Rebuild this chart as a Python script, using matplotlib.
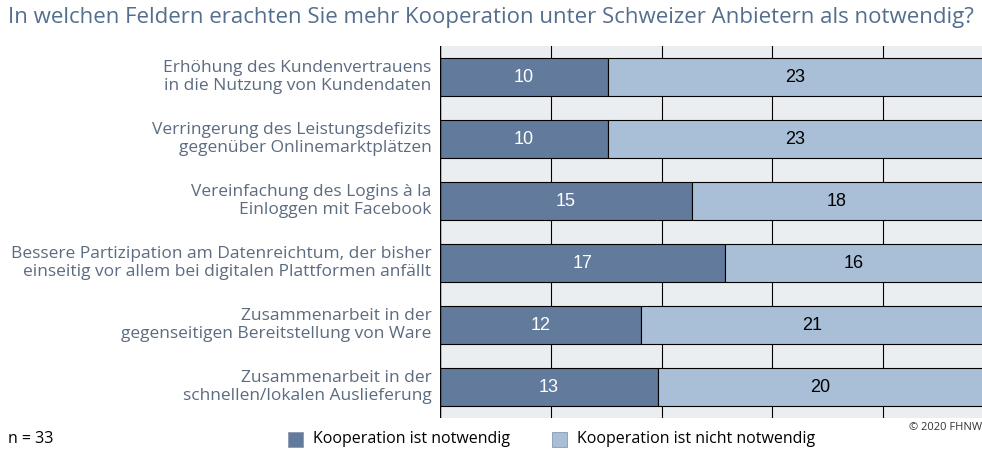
import matplotlib
matplotlib.use("Agg")
from matplotlib import pyplot as plt
from matplotlib.patches import Rectangle

categories = [
    "Erhöhung des Kundenvertrauens\nin die Nutzung von Kundendaten",
    "Verringerung des Leistungsdefizits\ngegenüber Onlinemarktplätzen",
    "Vereinfachung des Logins à la\nEinloggen mit Facebook",
    "Bessere Partizipation am Datenreichtum, der bisher\neinseitig vor allem bei digitalen Plattformen anfällt",
    "Zusammenarbeit in der\ngegenseitigen Bereitstellung von Ware",
    "Zusammenarbeit in der\nschnellen/lokalen Auslieferung",
]
notwendig = [10, 10, 15, 17, 12, 13]
nicht_notwendig = [23, 23, 18, 16, 21, 20]
series_names = ["Kooperation ist notwendig", "Kooperation ist nicht notwendig"]
n_total = 33

dark = "#627a9b"
light = "#a9bfd7"
text_col = "#5b6b80"
title_col = "#536e8e"

fig = plt.figure(figsize=(9.82, 4.5), dpi=100)
# plot area runs past the right edge of the figure
ax = fig.add_axes([440 / 982, 32 / 450, 554 / 982, 372 / 450])
ax.set_facecolor("#ebeef1")

y = list(range(len(categories)))
ax.barh(y, notwendig, height=0.62, color=dark, edgecolor="black", linewidth=0.8, zorder=3)
ax.barh(y, nicht_notwendig, left=notwendig, height=0.62, color=light,
        edgecolor="black", linewidth=0.8, zorder=3)

ax.set_xlim(0, n_total)
ax.set_ylim(len(categories) - 0.5, -0.5)
ax.set_xticks([n_total * k / 5 for k in range(6)])
ax.set_yticks([])
ax.tick_params(axis="x", length=0, labelbottom=False)
ax.grid(axis="x", color="black", linewidth=0.8, zorder=1)
for s in ax.spines.values():
    s.set_visible(False)
ax.axvline(0, color="black", linewidth=1.0, zorder=4)

# right edge of the visible part of the axes, in data units
vis_right = ax.transData.inverted().transform(fig.transFigure.transform((1, 0)))[0]

for i, (a, b) in enumerate(zip(notwendig, nicht_notwendig)):
    ax.text(a / 2, i, str(a), ha="center", va="center", color="white",
            fontsize=13, family="Liberation Sans", zorder=5)
    right = min(a + b, vis_right)
    ax.text((a + right) / 2, i, str(b), ha="center", va="center", color="black",
            fontsize=13, family="Liberation Sans", zorder=5)
    ax.text(-0.5, i, categories[i], ha="right", va="center", color=text_col,
            fontsize=12.5, family="Open Sans", linespacing=1.2,
            transform=ax.transData)

fig.text(8 / 982, 1 - 18 / 450, "In welchen Feldern erachten Sie mehr Kooperation unter Schweizer Anbietern als notwendig?",
         ha="left", va="center", color=title_col, fontsize=16, family="Open Sans")

fig.text(8 / 982, 1 - 439 / 450, f"n = {n_total}", ha="left", va="center",
         color="black", fontsize=11.5, family="Open Sans")
fig.text(1.0, 1 - 427 / 450, "© 2020 FHNW", ha="right", va="center",
         color="#333333", fontsize=8, family="Open Sans")

# legend
for x0, col, name in [(288, dark, series_names[0]), (552, light, series_names[1])]:
    fig.patches.append(Rectangle((x0 / 982, 1 - 447 / 450), 15 / 982, 15 / 450,
                                 transform=fig.transFigure, facecolor=col,
                                 edgecolor="#8a9ab0", linewidth=0.6))
    fig.text((x0 + 25) / 982, 1 - 439 / 450, name, ha="left", va="center",
             color="black", fontsize=11.5, family="Open Sans")

fig.savefig("out.png", dpi=100)
